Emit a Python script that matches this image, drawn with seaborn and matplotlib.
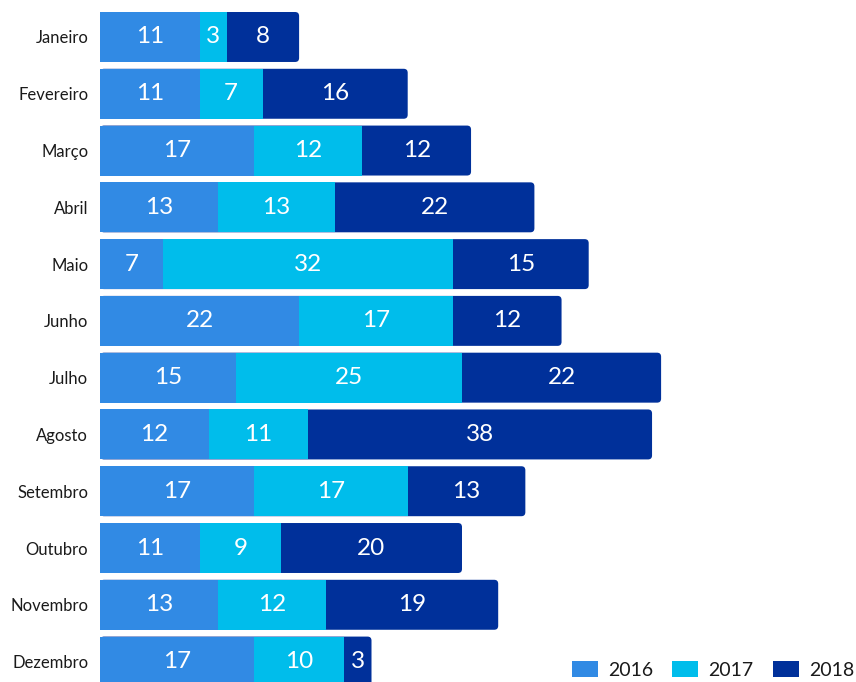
import matplotlib
matplotlib.use("Agg")
import matplotlib.pyplot as plt
from matplotlib.patches import FancyBboxPatch
import seaborn as sns
import pandas as pd
import numpy as np

months = ["Janeiro", "Fevereiro", "Março", "Abril", "Maio", "Junho", "Julho",
          "Agosto", "Setembro", "Outubro", "Novembro", "Dezembro"]
v2016 = [11, 11, 17, 13, 7, 22, 15, 12, 17, 11, 13, 17]
v2017 = [3, 7, 12, 13, 32, 17, 25, 11, 17, 9, 12, 10]
v2018 = [8, 16, 12, 22, 15, 12, 22, 38, 13, 20, 19, 3]
series = ["2016", "2017", "2018"]
colors = ["#318ae4", "#00bdeb", "#00309a"]

sns.set_theme(style="white")
plt.rcParams["font.family"] = ["Lato", "DejaVu Sans"]

df = pd.DataFrame({"month": months, "a": v2016, "b": v2017, "c": v2018})
df["ab"] = df["a"] + df["b"]
df["abc"] = df["ab"] + df["c"]

W, H = 856, 682
fig = plt.figure(figsize=(W / 100, H / 100), dpi=100)
ax = fig.add_axes([100 / W, 0, 756 / W, 673.4 / H])

bw = 0.88
sns.barplot(data=df, x="abc", y="month", color=colors[2], width=bw, ax=ax,
            orient="h", saturation=1, linewidth=0)
n_outer = len(ax.patches)
sns.barplot(data=df, x="ab", y="month", color=colors[1], width=bw, ax=ax,
            orient="h", saturation=1, linewidth=0)
sns.barplot(data=df, x="a", y="month", color=colors[0], width=bw, ax=ax,
            orient="h", saturation=1, linewidth=0)

xmax = 756 / 9.05
ax.set_xlim(0, xmax)
ax.set_ylim(11.36, -0.5)

# round outer ends of the total bars
xu_per_px = xmax / 756
yu_per_px = 11.86 / 673.4
aspect = yu_per_px / xu_per_px
outer = list(ax.patches[:n_outer])
for p in outer:
    x0, y0 = p.get_x(), p.get_y()
    w, h = p.get_width(), p.get_height()
    fb = FancyBboxPatch((x0, y0), w, h,
                        boxstyle=f"round,pad=0,rounding_size={4 * xu_per_px}",
                        mutation_aspect=aspect, facecolor=colors[2],
                        edgecolor="none", linewidth=0, zorder=p.get_zorder() - 0.5)
    p.set_visible(False)
    ax.add_patch(fb)

for i in range(len(months)):
    starts = [0, v2016[i], v2016[i] + v2017[i]]
    vals = [v2016[i], v2017[i], v2018[i]]
    for s, v in zip(starts, vals):
        ax.text(s + v / 2, i, str(v), ha="center", va="center",
                color="white", fontsize=17.5, zorder=10)

ax.set_xlabel("")
ax.set_ylabel("")
ax.set_xticks([])
ax.tick_params(axis="y", length=0, pad=8.5, labelsize=12, labelcolor="#1a1a1a")
for sp in ax.spines.values():
    sp.set_visible(False)

handles = [plt.Rectangle((0, 0), 1, 1, facecolor=c, edgecolor="none") for c in colors]
fig.legend(handles, series, loc="center right", bbox_to_anchor=(854 / W, 12 / H),
           ncol=3, frameon=False, fontsize=14, handlelength=1.35,
           handleheight=0.9, handletextpad=0.5, columnspacing=1.0,
           borderpad=0, borderaxespad=0, labelcolor="#1a1a1a")

fig.savefig("out.png", dpi=100)
